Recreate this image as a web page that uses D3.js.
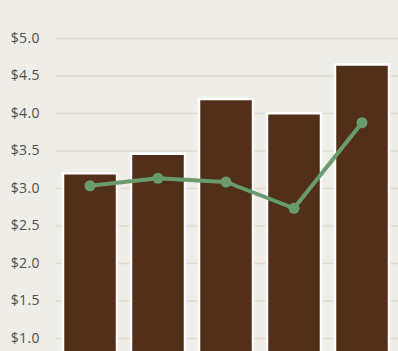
<!DOCTYPE html>
<html>
<head>
<meta charset="utf-8">
<script src="https://cdn.jsdelivr.net/npm/d3@7"></script>
<style>
  body { margin: 0; background: #efede7; }
  .tick text { font-family: "Open Sans", sans-serif; }
</style>
</head>
<body>
<div id="chart"></div>
<script>
// data
var categories = ["A", "B", "C", "D", "E"];
var barValues = [3.21, 3.47, 4.2, 4.01, 4.66];
var lineValues = [3.03, 3.13, 3.08, 2.73, 3.87];
var tickValues = [1.0, 1.5, 2.0, 2.5, 3.0, 3.5, 4.0, 4.5, 5.0];

var svgWidth = 398;
var svgHeight = 351;

var svg = d3.select("#chart")
  .append("svg")
  .attr("width", svgWidth)
  .attr("height", svgHeight)
  .style("display", "block");

svg.append("rect")
  .attr("width", svgWidth)
  .attr("height", svgHeight)
  .attr("fill", "#efede7");

var x = d3.scaleBand()
  .domain(categories)
  .range([56, 396])
  .paddingInner(0.176)
  .paddingOuter(0.088);

var y = d3.scaleLinear()
  .domain([1, 5])
  .range([338, 38]);

// gridlines + labels
var yAxis = d3.axisLeft(y)
  .tickValues(tickValues)
  .tickSize(-(svgWidth - 56))
  .tickPadding(16)
  .tickFormat(d => "$" + d3.format(".1f")(d));

var gAxis = svg.append("g")
  .attr("transform", "translate(56,0)")
  .call(yAxis);

gAxis.select(".domain").remove();
gAxis.selectAll(".tick line")
  .attr("stroke", "#dddbd4")
  .attr("stroke-width", 1.5);
gAxis.selectAll(".tick text")
  .attr("fill", "#4e4e4e")
  .attr("font-size", 14)
  .attr("letter-spacing", 0.4);

// bars
svg.selectAll("rect.bar")
  .data(barValues)
  .enter()
  .append("rect")
  .attr("class", "bar")
  .attr("x", (d, i) => x(categories[i]) + 1)
  .attr("y", d => y(d) + 1)
  .attr("width", x.bandwidth() - 2)
  .attr("height", d => y(0) - y(d))
  .attr("fill", "#512f19")
  .attr("stroke", "#fff")
  .attr("stroke-width", 2.5);

// line
var line = d3.line()
  .x((d, i) => x(categories[i]) + x.bandwidth() / 2)
  .y(d => y(d));

svg.append("path")
  .datum(lineValues)
  .attr("d", line)
  .attr("fill", "none")
  .attr("stroke", "#6a9b6e")
  .attr("stroke-width", 4)
  .attr("stroke-linejoin", "round");

svg.selectAll("circle")
  .data(lineValues)
  .enter()
  .append("circle")
  .attr("cx", (d, i) => x(categories[i]) + x.bandwidth() / 2)
  .attr("cy", d => y(d))
  .attr("r", 5.5)
  .attr("fill", "#6a9b6e");
</script>
</body>
</html>
